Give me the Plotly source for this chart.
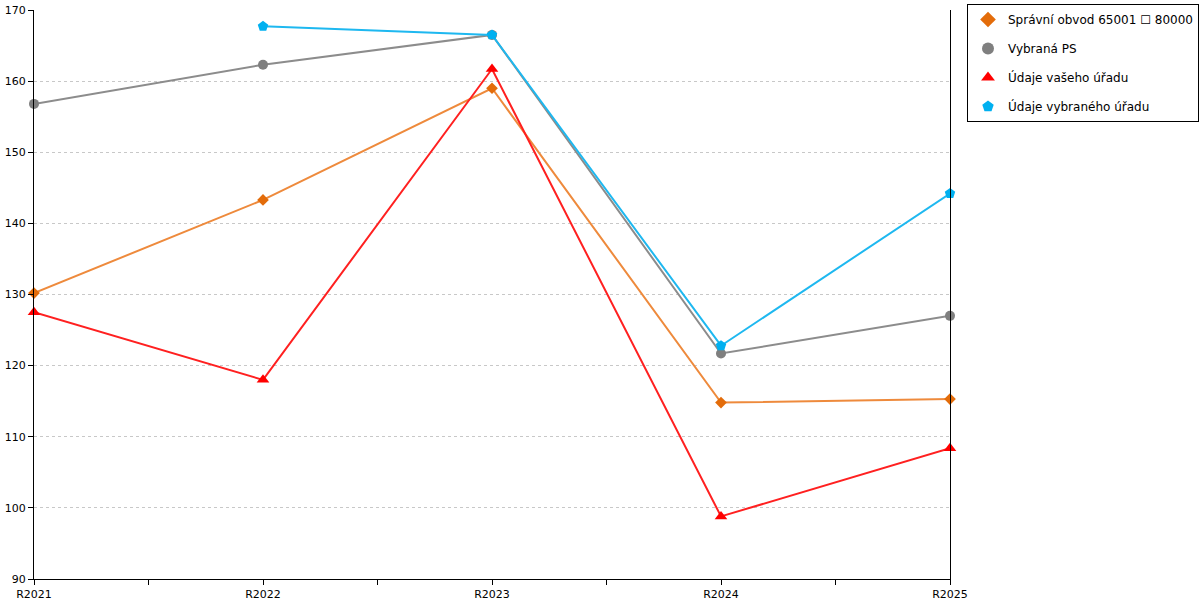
import plotly.graph_objects as go

categories = ["R2021", "R2022", "R2023", "R2024", "R2025"]
spravni_obvod = [130.2, 143.3, 159.0, 114.8, 115.3]
vybrana_ps = [156.8, 162.3, 166.5, 121.7, 127.0]
udaje_vaseho = [127.5, 118.0, 161.7, 98.8, 108.4]
udaje_vybraneho = [None, 167.7, 166.5, 122.8, 144.2]
y_ticks = [90, 100, 110, 120, 130, 140, 150, 160, 170]

series = [
    ("Správní obvod 65001 \u2610 80000", spravni_obvod, "#EE8A3C", "#E36C0A", "diamond", 9),
    ("Vybraná PS", vybrana_ps, "#8C8C8C", "#7F7F7F", "circle", 10),
    ("Údaje vašeho úřadu", udaje_vaseho, "#FF2020", "#FF0000", "triangle-up", 11),
    ("Údaje vybraného úřadu", udaje_vybraneho, "#1EB8F0", "#00B0F0", "pentagon", 11),
]

xpos = list(range(len(categories)))
fig = go.Figure()
for i, (name, vals, lc, mc, sym, ms) in enumerate(series):
    fig.add_trace(go.Scatter(
        x=xpos, y=vals, mode="lines+markers", name=name, showlegend=False,
        line=dict(color=lc, width=2), marker=dict(color=mc, symbol=sym, size=ms),
        connectgaps=False, hoverinfo="x+y+name", cliponaxis=False))
for i, (name, vals, lc, mc, sym, ms) in enumerate(series):
    fig.add_trace(go.Scatter(
        x=[None], y=[None], mode="markers", name=name, legendgroup=f"g{i}",
        marker=dict(color=mc, symbol=sym, size=ms - 1)))

font = dict(family="DejaVu Sans", size=11, color="#000000")
fig.update_layout(
    width=1200, height=600,
    margin=dict(l=34, r=250, t=10, b=21, pad=0, autoexpand=False),
    plot_bgcolor="white", paper_bgcolor="white",
    font=font,
    legend=dict(x=967 / 1200, y=1.0 - 4 / 600, xref="container", yref="container",
                xanchor="left", yanchor="top",
                bordercolor="#000000", borderwidth=1, font=dict(family="DejaVu Sans", size=12),
                tracegroupgap=10, itemsizing="constant"),
    xaxis=dict(range=[0, len(categories) - 1], tickvals=xpos, ticktext=categories,
               showline=True, linecolor="black", linewidth=1, ticks="outside",
               ticklen=5, tickcolor="black", showgrid=False, zeroline=False,
               automargin=False,
               minor=dict(dtick=0.5, tick0=0, ticks="outside", ticklen=5, tickcolor="black", showgrid=False),
               tickfont=font),
    yaxis=dict(range=[90, 170], tickvals=y_ticks, showline=True, mirror=True,
               linecolor="black", linewidth=1, ticks="outside", ticklen=5,
               tickcolor="black", showgrid=True, gridcolor="#C8C8C8", griddash="dot",
               gridwidth=1, zeroline=False, tickfont=font, automargin=False),
)
fig.write_html("out.html", config={"displayModeBar": False},
               post_script="document.body.style.margin='0';document.body.style.padding='0';")
